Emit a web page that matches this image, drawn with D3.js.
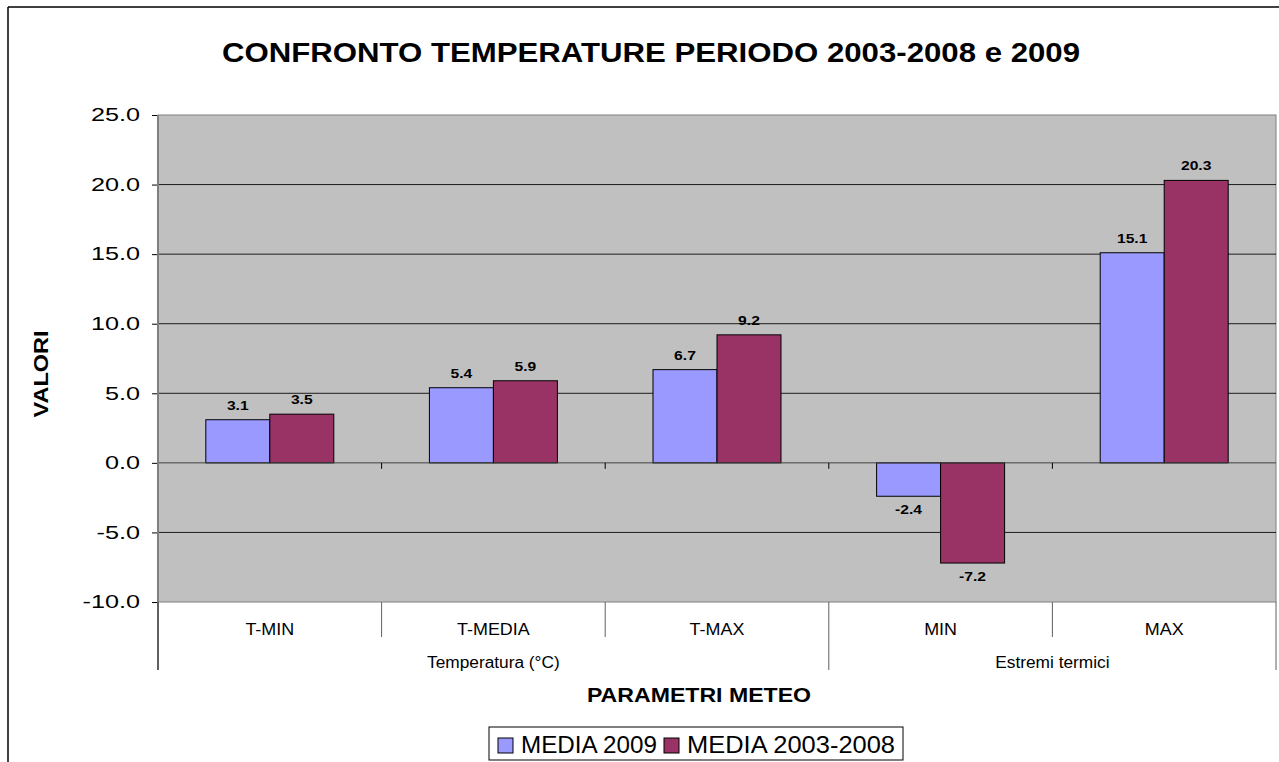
<!DOCTYPE html>
<html><head><meta charset="utf-8">
<script src="https://cdn.jsdelivr.net/npm/d3@7"></script>
<style>body{margin:0;background:#fff;overflow:hidden} text{font-family:Arial,"Liberation Sans",sans-serif;fill:#000}</style>
</head><body><svg id="c" width="1279" height="762"></svg>
<script>
const title = "CONFRONTO TEMPERATURE PERIODO 2003-2008 e 2009";
const categories = ["T-MIN", "T-MEDIA", "T-MAX", "MIN", "MAX"];
const groupNames = ["Temperatura (°C)", "Estremi termici"];
const groupSpans = [[0, 2], [3, 4]];
const seriesNames = ["MEDIA 2009", "MEDIA 2003-2008"];
const media2009 = [3.1, 5.4, 6.7, -2.4, 15.1];
const media0308 = [3.5, 5.9, 9.2, -7.2, 20.3];
const yTicks = [-10, -5, 0, 5, 10, 15, 20, 25];
const colors = ["#9999FF", "#993366"];

const svg = d3.select("#c");
const L = 158, R = 1276, T = 115, B = 602;
const x = d3.scaleBand().domain(categories).range([L, R]).paddingInner(0).paddingOuter(0);
const xs = d3.scaleBand().domain(seriesNames).range([0, x.bandwidth()]).paddingInner(0).paddingOuter(0.747);
const y = d3.scaleLinear().domain([-10, 25]).range([B, T]);
const fmt = v => d3.format(".1f")(v).replace("\u2212", "-");

function stretch(sel, f) {
  sel.each(function () {
    const w = this.getComputedTextLength();
    this.setAttribute("textLength", w * f);
    this.setAttribute("lengthAdjust", "spacingAndGlyphs");
  });
}

// outer frame
svg.append("line").attr("x1", 8).attr("x2", 1279).attr("y1", 7).attr("y2", 7).attr("stroke", "#000").attr("stroke-width", 1.5);
svg.append("line").attr("x1", 8).attr("x2", 8).attr("y1", 7).attr("y2", 762).attr("stroke", "#000").attr("stroke-width", 1.5);

// title
svg.append("text").attr("x", 651).attr("y", 62).attr("text-anchor", "middle")
  .attr("font-size", 27).attr("font-weight", "bold")
  .attr("textLength", 858).attr("lengthAdjust", "spacingAndGlyphs").text(title);

// plot area
svg.append("rect").attr("x", L).attr("y", T).attr("width", R - L).attr("height", B - T)
  .attr("fill", "#C0C0C0").attr("stroke", "#808080").attr("stroke-width", 1);

// gridlines
svg.append("g").selectAll("line").data(yTicks.filter(t => t !== 0 && t !== -10 && t !== 25)).join("line")
  .attr("x1", L).attr("x2", R).attr("y1", d => y(d)).attr("y2", d => y(d))
  .attr("stroke", "#000").attr("stroke-width", 1).attr("opacity", 0.85);

// y axis
const ya = svg.append("g").attr("transform", `translate(${L},0)`)
  .call(d3.axisLeft(y).tickValues(yTicks).tickFormat(fmt).tickSize(6).tickPadding(12));
ya.select(".domain").remove();
ya.selectAll(".tick line").attr("stroke", "#000");
ya.selectAll(".tick text").attr("font-size", 18).attr("font-family", "Arial, 'Liberation Sans', sans-serif").attr("fill", "#000");
stretch(ya.selectAll(".tick text"), 1.4);
ya.selectAll(".tick text").attr("text-anchor", "end");

// bars
const data = categories.map((c, i) => [
  { cat: c, s: seriesNames[0], v: media2009[i], color: colors[0] },
  { cat: c, s: seriesNames[1], v: media0308[i], color: colors[1] }
]).flat();

svg.append("g").selectAll("rect").data(data).join("rect")
  .attr("x", d => x(d.cat) + xs(d.s)).attr("width", xs.bandwidth())
  .attr("y", d => y(Math.max(0, d.v))).attr("height", d => Math.abs(y(d.v) - y(0)))
  .attr("fill", d => d.color).attr("stroke", "#000").attr("stroke-width", 1);

// zero axis with ticks at category boundaries
svg.append("line").attr("x1", L).attr("x2", R).attr("y1", y(0)).attr("y2", y(0)).attr("stroke", "#404040").attr("stroke-width", 1);
const bounds = categories.map(c => x(c)).concat([R]);
svg.append("g").selectAll("line").data(bounds.slice(1, -1)).join("line")
  .attr("x1", d => d).attr("x2", d => d).attr("y1", y(0)).attr("y2", y(0) + 6).attr("stroke", "#000");

// left axis line
svg.append("line").attr("x1", L).attr("x2", L).attr("y1", T).attr("y2", 670).attr("stroke", "#808080").attr("stroke-width", 2);

// value labels
const vl = svg.append("g").selectAll("text").data(data).join("text")
  .attr("x", d => x(d.cat) + xs(d.s) + xs.bandwidth() / 2)
  .attr("y", d => d.v >= 0 ? y(d.v) - 10 : y(d.v) + 18)
  .attr("text-anchor", "middle").attr("font-size", 12.5).attr("font-weight", "bold")
  .text(d => fmt(d.v));
stretch(vl, 1.25);

// category table
const groupBounds = [L].concat(groupSpans.map(s => s[1] === categories.length - 1 ? R : x(categories[s[1] + 1])));
const innerBounds = bounds.filter(b => !groupBounds.some(g => Math.abs(g - b) < 1));
svg.append("g").selectAll("line").data(innerBounds).join("line")
  .attr("x1", d => d).attr("x2", d => d).attr("y1", B).attr("y2", 637).attr("stroke", "#606060");
svg.append("g").selectAll("line").data(groupBounds).join("line")
  .attr("x1", d => d).attr("x2", d => d).attr("y1", B).attr("y2", 670).attr("stroke", "#606060").attr("stroke-width", d => d === L ? 2 : 1);

const cl = svg.append("g").selectAll("text").data(categories).join("text")
  .attr("x", d => x(d) + x.bandwidth() / 2).attr("y", 635).attr("text-anchor", "middle")
  .attr("font-size", 16).text(d => d);
stretch(cl, 1.12);

const gl = svg.append("g").selectAll("text").data(groupNames).join("text")
  .attr("x", (d, i) => (x(categories[groupSpans[i][0]]) + x(categories[groupSpans[i][1]]) + x.bandwidth()) / 2)
  .attr("y", 668).attr("text-anchor", "middle").attr("font-size", 16).text(d => d);
stretch(gl, 1.08);

// axis titles
const xt = svg.append("text").attr("x", 699).attr("y", 702).attr("text-anchor", "middle")
  .attr("font-size", 21).attr("font-weight", "bold").text("PARAMETRI METEO");
stretch(xt, 1.1);
svg.append("text").attr("transform", "translate(48,374) rotate(-90)").attr("text-anchor", "middle")
  .attr("font-size", 20).attr("font-weight", "bold").attr("textLength", 87).attr("lengthAdjust", "spacingAndGlyphs").text("VALORI");

// legend
const lg = svg.append("g");
lg.append("rect").attr("x", 489).attr("y", 727).attr("width", 414).attr("height", 33).attr("fill", "#fff").attr("stroke", "#000");
const lx = [498, 664];
const lw = [136, 208];
seriesNames.forEach((s, i) => {
  lg.append("rect").attr("x", lx[i]).attr("y", 738).attr("width", 15).attr("height", 15).attr("fill", colors[i]).attr("stroke", "#000");
  lg.append("text").attr("x", lx[i] + 23).attr("y", 753).attr("font-size", 23)
    .attr("textLength", lw[i]).attr("lengthAdjust", "spacingAndGlyphs").text(s);
});
</script></body></html>
